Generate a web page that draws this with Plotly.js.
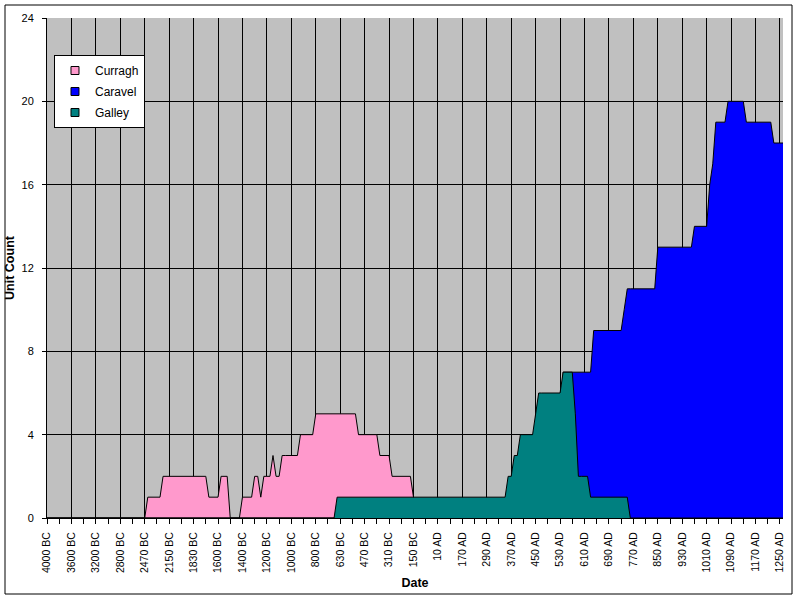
<!DOCTYPE html>
<html>
<head>
<meta charset="utf-8">
<script src="https://cdn.plot.ly/plotly-3.0.1.min.js"></script>
<style>
  html, body { margin: 0; padding: 0; background: #fff; }
  #chart { width: 800px; height: 600px; }
</style>
</head>
<body>
<div id="chart"></div>
<script>
// Categories: one per game turn
const dates = [
  "4000 BC","3950 BC","3900 BC","3850 BC","3800 BC","3750 BC","3700 BC","3650 BC","3600 BC","3550 BC",
  "3500 BC","3450 BC","3400 BC","3350 BC","3300 BC","3250 BC","3200 BC","3150 BC","3100 BC","3050 BC",
  "3000 BC","2950 BC","2900 BC","2850 BC","2800 BC","2750 BC","2710 BC","2670 BC","2630 BC","2590 BC",
  "2550 BC","2510 BC","2470 BC","2430 BC","2390 BC","2350 BC","2310 BC","2270 BC","2230 BC","2190 BC",
  "2150 BC","2110 BC","2070 BC","2030 BC","1990 BC","1950 BC","1910 BC","1870 BC","1830 BC","1790 BC",
  "1750 BC","1725 BC","1700 BC","1675 BC","1650 BC","1625 BC","1600 BC","1575 BC","1550 BC","1525 BC",
  "1500 BC","1475 BC","1450 BC","1425 BC","1400 BC","1375 BC","1350 BC","1325 BC","1300 BC","1275 BC",
  "1250 BC","1225 BC","1200 BC","1175 BC","1150 BC","1125 BC","1100 BC","1075 BC","1050 BC","1025 BC",
  "1000 BC","975 BC","950 BC","925 BC","900 BC","875 BC","850 BC","825 BC","800 BC","775 BC",
  "750 BC","730 BC","710 BC","690 BC","670 BC","650 BC","630 BC","610 BC","590 BC","570 BC",
  "550 BC","530 BC","510 BC","490 BC","470 BC","450 BC","430 BC","410 BC","390 BC","370 BC",
  "350 BC","330 BC","310 BC","290 BC","270 BC","250 BC","230 BC","210 BC","190 BC","170 BC",
  "150 BC","130 BC","110 BC","90 BC","70 BC","50 BC","30 BC","10 BC","10 AD","30 AD",
  "50 AD","70 AD","90 AD","110 AD","130 AD","150 AD","170 AD","190 AD","210 AD","230 AD",
  "250 AD","260 AD","270 AD","280 AD","290 AD","300 AD","310 AD","320 AD","330 AD","340 AD",
  "350 AD","360 AD","370 AD","380 AD","390 AD","400 AD","410 AD","420 AD","430 AD","440 AD",
  "450 AD","460 AD","470 AD","480 AD","490 AD","500 AD","510 AD","520 AD","530 AD","540 AD",
  "550 AD","560 AD","570 AD","580 AD","590 AD","600 AD","610 AD","620 AD","630 AD","640 AD",
  "650 AD","660 AD","670 AD","680 AD","690 AD","700 AD","710 AD","720 AD","730 AD","740 AD",
  "750 AD","760 AD","770 AD","780 AD","790 AD","800 AD","810 AD","820 AD","830 AD","840 AD",
  "850 AD","860 AD","870 AD","880 AD","890 AD","900 AD","910 AD","920 AD","930 AD","940 AD",
  "950 AD","960 AD","970 AD","980 AD","990 AD","1000 AD","1010 AD","1020 AD","1030 AD","1040 AD",
  "1050 AD","1060 AD","1070 AD","1080 AD","1090 AD","1100 AD","1110 AD","1120 AD","1130 AD","1140 AD",
  "1150 AD","1160 AD","1170 AD","1180 AD","1190 AD","1200 AD","1210 AD","1220 AD","1230 AD","1240 AD",
  "1250 AD","1260 AD"
];

const tickLabels = [
  "4000 BC","3600 BC","3200 BC","2800 BC","2470 BC","2150 BC","1830 BC","1600 BC","1400 BC","1200 BC",
  "1000 BC","800 BC","630 BC","470 BC","310 BC","150 BC","10 AD","170 AD","290 AD","370 AD",
  "450 AD","530 AD","610 AD","690 AD","770 AD","850 AD","930 AD","1010 AD","1090 AD","1170 AD","1250 AD"
];

const yTicks = [0, 4, 8, 12, 16, 20, 24];
const yGrid = [4, 8, 12, 16, 20];

const curragh = [
  0,0,0,0,0,0,0,0,0,0,
  0,0,0,0,0,0,0,0,0,0,
  0,0,0,0,0,0,0,0,0,0,
  0,0,0,1,1,1,1,1,2,2,
  2,2,2,2,2,2,2,2,2,2,
  2,2,2,1,1,1,1,2,2,2,
  0,0,0,0,1,1,1,1,2,2,
  1,2,2,2,3,2,2,3,3,3,
  3,3,3,4,4,4,4,4,5,5,
  5,5,5,5,5,5,5,5,5,5,
  5,5,4,4,4,4,4,4,4,3,
  3,3,3,2,2,2,2,2,2,2,
  1,0,0,0,0,0,0,0,0,0,
  0,0,0,0,0,0,0,0,0,0,
  0,0,0,0,0,0,0,0,0,0,
  0,0,0,0,0,0,0,0,0,0,
  0,0,0,0,0,0,0,0,0,0,
  0,0,0,0,0,0,0,0,0,0,
  0,0,0,0,0,0,0,0,0,0,
  0,0,0,0,0,0,0,0,0,0,
  0,0,0,0,0,0,0,0,0,0,
  0,0,0,0,0,0,0,0,0,0,
  0,0,0,0,0,0,0,0,0,0,
  0,0,0,0,0,0,0,0,0,0,
  0,0
];

const caravel = [
  0,0,0,0,0,0,0,0,0,0,
  0,0,0,0,0,0,0,0,0,0,
  0,0,0,0,0,0,0,0,0,0,
  0,0,0,0,0,0,0,0,0,0,
  0,0,0,0,0,0,0,0,0,0,
  0,0,0,0,0,0,0,0,0,0,
  0,0,0,0,0,0,0,0,0,0,
  0,0,0,0,0,0,0,0,0,0,
  0,0,0,0,0,0,0,0,0,0,
  0,0,0,0,0,0,0,0,0,0,
  0,0,0,0,0,0,0,0,0,0,
  0,0,0,0,0,0,0,0,0,0,
  0,0,0,0,0,0,0,0,0,0,
  0,0,0,0,0,0,0,0,0,0,
  0,0,0,0,0,0,0,0,0,0,
  0,0,0,0,0,0,0,0,0,0,
  0,0,0,0,0,0,0,0,0,7,
  7,7,7,7,7,7,7,7,7,9,
  9,9,9,9,9,9,9,9,9,10,
  11,11,11,11,11,11,11,11,11,11,
  13,13,13,13,13,13,13,13,13,13,
  13,13,14,14,14,14,14,16,17,19,
  19,19,19,20,20,20,20,20,20,19,
  19,19,19,19,19,19,19,19,18,18,
  18,18
];

const galley = [
  0,0,0,0,0,0,0,0,0,0,
  0,0,0,0,0,0,0,0,0,0,
  0,0,0,0,0,0,0,0,0,0,
  0,0,0,0,0,0,0,0,0,0,
  0,0,0,0,0,0,0,0,0,0,
  0,0,0,0,0,0,0,0,0,0,
  0,0,0,0,0,0,0,0,0,0,
  0,0,0,0,0,0,0,0,0,0,
  0,0,0,0,0,0,0,0,0,0,
  0,0,0,0,0,1,1,1,1,1,
  1,1,1,1,1,1,1,1,1,1,
  1,1,1,1,1,1,1,1,1,1,
  1,1,1,1,1,1,1,1,1,1,
  1,1,1,1,1,1,1,1,1,1,
  1,1,1,1,1,1,1,1,1,1,
  1,2,2,3,3,4,4,4,4,4,
  5,6,6,6,6,6,6,6,6,7,
  7,7,7,5,2,2,2,2,1,1,
  1,1,1,1,1,1,1,1,1,1,
  1,0,0,0,0,0,0,0,0,0,
  0,0,0,0,0,0,0,0,0,0,
  0,0,0,0,0,0,0,0,0,0,
  0,0,0,0,0,0,0,0,0,0,
  0,0,0,0,0,0,0,0,0,0,
  0,0
];

const seriesNames = ["Curragh", "Caravel", "Galley"];
const seriesValues = [curragh, caravel, galley];
const seriesColors = ["#FF99CC", "#0000FF", "#008080"];

// category positions on the axis (one per turn)
const xPos = dates.map((d, i) => i);
const tickVals = tickLabels.map(l => dates.indexOf(l));

const FONT = "Arial, 'Liberation Sans', sans-serif";

const traces = [];
seriesNames.forEach((name, k) => {
  traces.push({
    type: "scatter",
    mode: "lines",
    x: xPos,
    y: seriesValues[k],
    text: dates,
    name: name,
    legendgroup: name,
    showlegend: false,
    fill: "tozeroy",
    fillcolor: seriesColors[k],
    line: { color: "#000000", width: 1 },
    hovertemplate: "%{text}: %{y}<extra>" + name + "</extra>"
  });
});
// legend entries (square swatches)
seriesNames.forEach((name, k) => {
  traces.push({
    type: "scatter",
    mode: "markers",
    x: [null],
    y: [null],
    name: name,
    legendgroup: name,
    showlegend: true,
    marker: { symbol: "square", size: 8, color: seriesColors[k], line: { color: "#000000", width: 1 } }
  });
});

const layout = {
  width: 800,
  height: 600,
  margin: { l: 47, r: 17, t: 18, b: 82 },
  paper_bgcolor: "#FFFFFF",
  plot_bgcolor: "#C0C0C0",
  font: { family: FONT, size: 11, color: "#000000" },
  showlegend: true,
  legend: {
    x: 0.0095, y: 0.926, xanchor: "left", yanchor: "top",
    bgcolor: "#FFFFFF", bordercolor: "#000000", borderwidth: 1,
    font: { family: FONT, size: 12, color: "#000000" },
    tracegroupgap: 2,
    itemwidth: 30
  },
  xaxis: {
    type: "linear",
    range: [0, dates.length - 1],
    tickmode: "array",
    tickvals: tickVals,
    ticktext: tickLabels,
    tickangle: -90,
    ticks: "outside",
    ticklen: 5,
    tickcolor: "#000000",
    tickfont: { family: FONT, size: 10.5, color: "#000000" },
    ticklabelstandoff: 4,
    showgrid: true,
    gridcolor: "#000000",
    gridwidth: 1,
    zeroline: false,
    showline: true,
    linecolor: "#000000",
    linewidth: 1,
    minor: { dtick: 4, tick0: 0, ticks: "outside", ticklen: 5, tickcolor: "#000000", showgrid: false },
    title: { text: "Date", font: { family: FONT, size: 12.5, color: "#000000", weight: "bold" }, standoff: 6 }
  },
  yaxis: {
    range: [0, 24],
    tickmode: "array",
    tickvals: yTicks,
    ticks: "outside",
    ticklen: 4,
    tickcolor: "#000000",
    tickfont: { family: FONT, size: 11, color: "#000000" },
    ticklabelstandoff: 6,
    showgrid: false,
    zeroline: false,
    showline: true,
    linecolor: "#000000",
    linewidth: 1,
    minor: { tickmode: "array", tickvals: yGrid, ticks: "", showgrid: true, gridcolor: "#000000", gridwidth: 1 },
    title: { text: "Unit Count", font: { family: FONT, size: 12.5, color: "#000000", weight: "bold" }, standoff: 4 }
  },
  shapes: [{
    type: "rect", xref: "paper", yref: "paper",
    x0: (5 - 47) / 736, x1: (792 - 47) / 736,
    y0: (518 - 594) / 500, y1: (518 - 5) / 500,
    line: { color: "#000000", width: 1 },
    fillcolor: "rgba(0,0,0,0)",
    layer: "above"
  }]
};

Plotly.newPlot("chart", traces, layout, { displayModeBar: false });
</script>
</body>
</html>
